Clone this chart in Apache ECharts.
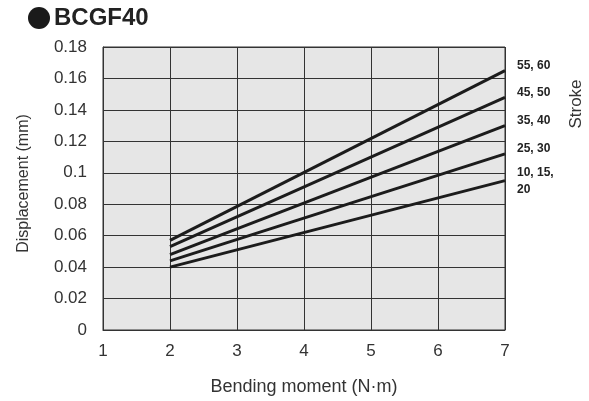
<!DOCTYPE html>
<html><head><meta charset="utf-8">
<script src="https://cdn.jsdelivr.net/npm/echarts@6/dist/echarts.min.js"></script>
<style>html,body{margin:0;padding:0;background:#fff}#c{width:589px;height:401px}</style>
</head><body><div id="c"></div>
<script>
const strokeLabels = ['10, 15,\n20', '25, 30', '35, 40', '45, 50', '55, 60'];
const moments = [2, 7];
const disp_10_20 = [0.040, 0.095];
const disp_25_30 = [0.044, 0.112];
const disp_35_40 = [0.048, 0.130];
const disp_45_50 = [0.053, 0.148];
const disp_55_60 = [0.057, 0.165];
const allDisp = [disp_10_20, disp_25_30, disp_35_40, disp_45_50, disp_55_60];
const yTicks = ['0','0.02','0.04','0.06','0.08','0.1','0.12','0.14','0.16','0.18'];
const xTicks = ['1','2','3','4','5','6','7'];
const FONT = 'Liberation Sans, Arial, sans-serif';

const chart = echarts.init(document.getElementById('c'), null, {renderer:'canvas'});
const series = allDisp.map((d, i) => ({
  type: 'line',
  name: strokeLabels[i],
  data: moments.map((m, j) => [m, d[j]]),
  symbol: 'none',
  lineStyle: {color: '#1c1c1c', width: 3},
  endLabel: {
    show: true,
    formatter: p => p.seriesName,
    color: '#222', fontFamily: FONT, fontWeight: 'bold', fontSize: 12,
    lineHeight: 17,
    distance: 12,
    align: 'left',
    offset: i === 0 ? [0, 1] : [0, -5]
  },
  silent: true,
  animation: false
}));

chart.setOption({
  animation: false,
  grid: {left: 103, right: 84, top: 47, bottom: 69, show: true,
         backgroundColor: '#e6e6e6', borderColor: '#333', borderWidth: 1},
  xAxis: {
    type: 'value', min: 1, max: 7, interval: 1,
    name: 'Bending moment (N\u00b7m)', nameLocation: 'middle', nameGap: 48,
    nameTextStyle: {fontFamily: FONT, fontSize: 18, color: '#333', verticalAlign: 'top'},
    axisLine: {show: true, lineStyle: {color: '#333'}},
    axisTick: {show: false},
    axisLabel: {fontFamily: FONT, fontSize: 17, color: '#333', margin: 13,
                formatter: v => xTicks[Math.round(v) - 1]},
    splitLine: {show: true, lineStyle: {color: '#333', width: 1}}
  },
  yAxis: {
    type: 'value', min: 0, max: 0.18, interval: 0.02,
    name: 'Displacement (mm)', nameLocation: 'middle', nameGap: 71,
    nameTextStyle: {fontFamily: FONT, fontSize: 16, color: '#333', padding: [0, 0, 0, 10]},
    axisLine: {show: true, lineStyle: {color: '#333'}},
    axisTick: {show: false},
    axisLabel: {fontFamily: FONT, fontSize: 17, color: '#333', margin: 16,
                formatter: v => yTicks[Math.round(v / 0.02)]},
    splitLine: {show: true, lineStyle: {color: '#333', width: 1}}
  },
  graphic: [
    {type: 'circle', shape: {cx: 39, cy: 18, r: 11}, style: {fill: '#1a1a1a'}},
    {type: 'text', x: 54, y: 18, style: {text: 'BCGF40', font: 'bold 24px ' + FONT, fill: '#222', verticalAlign: 'middle'}},
    {type: 'text', x: 576, y: 104, rotation: Math.PI / 2,
     style: {text: 'Stroke', font: '17px ' + FONT, fill: '#333', align: 'center', verticalAlign: 'middle'}}
  ],
  series: series
});
</script></body></html>
